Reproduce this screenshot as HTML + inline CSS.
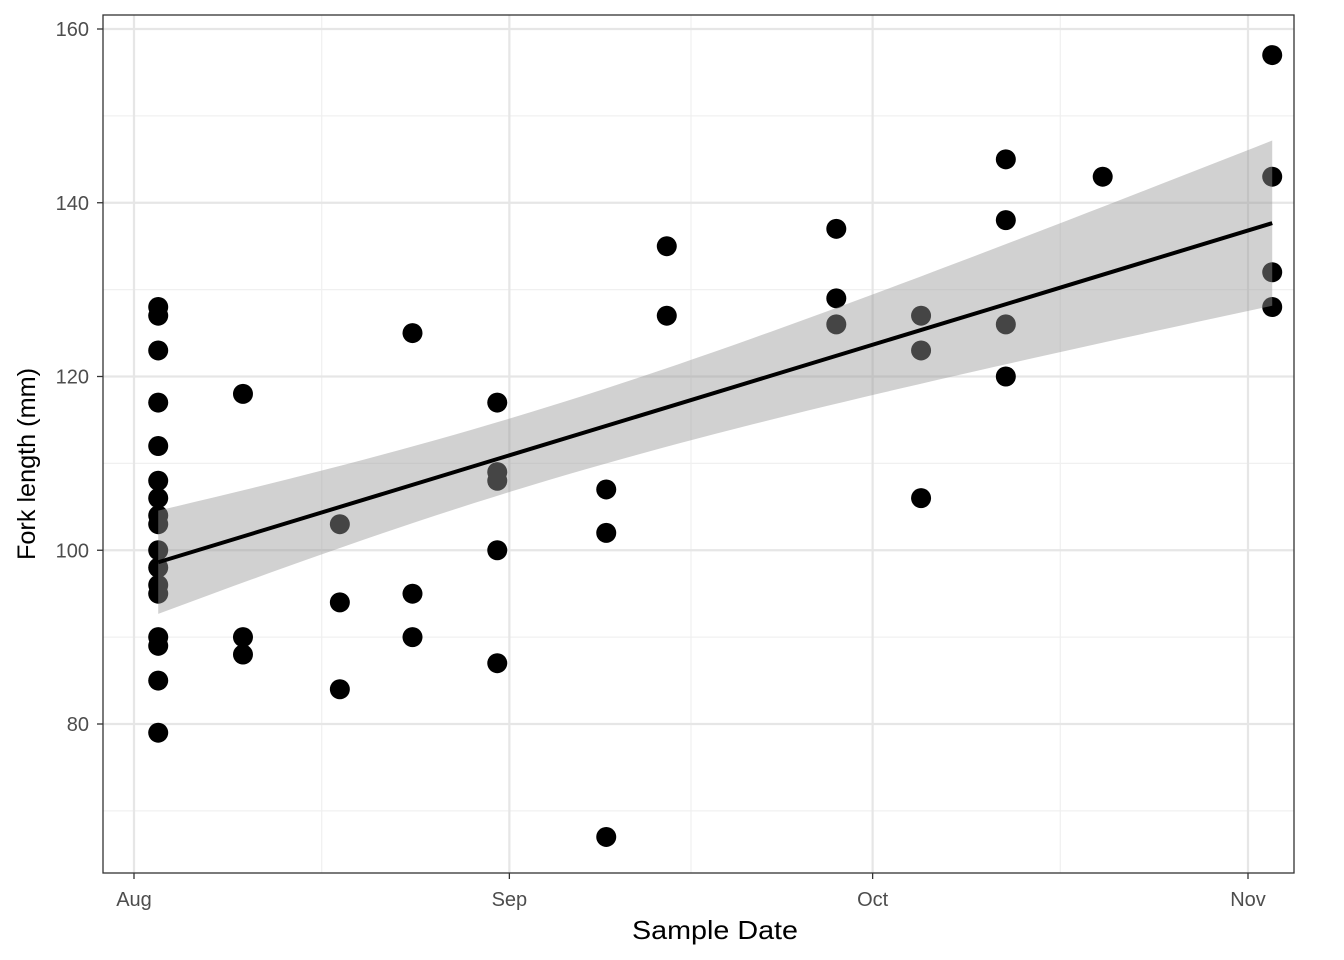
<!DOCTYPE html>
<html><head><meta charset="utf-8"><style>
body{margin:0;background:#fff}
svg{display:block;font-family:"Liberation Sans",Arial,sans-serif}
</style></head><body>
<svg id="c" width="1344" height="960"></svg>
<script>
const dayOffsets=[2,9,17,23,30,39,44,58,65,72,80,94];
const lengths=[
[128,127,123,117,112,108,106,104,103,100,98,96,95,90,89,85,79],
[118,90,88],[103,94,84],[125,95,90],[117,109,108,100,87],[107,102,67],
[135,127],[137,129,126],[127,123,106],[145,138,126,120],[143],[157,143,132,128]];
const yTicks=[80,100,120,140,160];
const yMinor=[70,90,110,130,150];
const xTicks=[0,31,61,92];
const xTickLabels=["Aug","Sep","Oct","Nov"];
const xMinor=[15.5,46,76.5];

const L=103,R=1294,T=15,B=873;
const xs=d=>134+d*(1248-134)/92;
const ys=v=>29+(160-v)*(724-29)/80;
const NS="http://www.w3.org/2000/svg";
const svg=document.getElementById('c');
function mk(t,a,p){const e=document.createElementNS(NS,t);for(const k in a)e.setAttribute(k,a[k]);(p||svg).appendChild(e);return e;}
const bg=mk('rect',{x:L,y:T,width:R-L,height:B-T,fill:'#fff'});


const g=mk('g',{});


yMinor.forEach(v=>mk('line',{x1:L,x2:R,y1:ys(v),y2:ys(v),stroke:'#f0f0f0','stroke-width':1.2},g));
xMinor.forEach(d=>mk('line',{y1:T,y2:B,x1:xs(d),x2:xs(d),stroke:'#f0f0f0','stroke-width':1.2},g));
yTicks.forEach(v=>mk('line',{x1:L,x2:R,y1:ys(v),y2:ys(v),stroke:'#e6e6e6','stroke-width':2.2},g));
xTicks.forEach(d=>mk('line',{y1:T,y2:B,x1:xs(d),x2:xs(d),stroke:'#e6e6e6','stroke-width':2.2},g));
const xsD=[],ysD=[];
const pg=mk('g',{});


dayOffsets.forEach((d,i)=>lengths[i].forEach(v=>{xsD.push(d);ysD.push(v);
 const c=mk('circle',{cx:xs(d),cy:ys(v),r:10,fill:'#000'},pg);
 
 }));
const n=xsD.length,mx=xsD.reduce((a,b)=>a+b)/n,my=ysD.reduce((a,b)=>a+b)/n;
let sxx=0,sxy=0;for(let i=0;i<n;i++){sxx+=(xsD[i]-mx)**2;sxy+=(xsD[i]-mx)*(ysD[i]-my);}
const b1=sxy/sxx,b0=my-b1*mx;
let sse=0;for(let i=0;i<n;i++)sse+=(ysD[i]-b0-b1*xsD[i])**2;
const s=Math.sqrt(sse/(n-2)),tq=2.01;
const d0=Math.min(...xsD),d1=Math.max(...xsD);
let up=[],lo=[];
for(let k=0;k<=60;k++){const d=d0+(d1-d0)*k/60,f=b0+b1*d,se=s*Math.sqrt(1/n+(d-mx)**2/sxx);
 up.push(xs(d)+','+ys(f+tq*se));lo.unshift(xs(d)+','+ys(f-tq*se));}
const band=mk('polygon',{points:up.concat(lo).join(' '),fill:'#999','fill-opacity':0.45});


const ln=mk('line',{x1:xs(d0),y1:ys(b0+b1*d0),x2:xs(d1),y2:ys(b0+b1*d1),stroke:'#000','stroke-width':4});


const fr=mk('rect',{x:L,y:T,width:R-L,height:B-T,fill:'none',stroke:'#333','stroke-width':1.3});


yTicks.forEach(v=>{mk('line',{x1:L-6,x2:L,y1:ys(v),y2:ys(v),stroke:'#333','stroke-width':1.3});
 const t=mk('text',{x:L-14,y:ys(v)+7,'text-anchor':'end','font-size':20,fill:'#4d4d4d'});t.textContent=v;
 
 });
xTicks.forEach((d,i)=>{mk('line',{x1:xs(d),x2:xs(d),y1:B,y2:B+6,stroke:'#333','stroke-width':1.3});
 const t=mk('text',{x:xs(d),y:906,'text-anchor':'middle','font-size':20,fill:'#4d4d4d'});t.textContent=xTickLabels[i];
 
 });
const xt=mk('text',{x:632,y:939,'font-size':26,fill:'#000',textLength:166,lengthAdjust:'spacingAndGlyphs'});xt.textContent='Sample Date';


const yt=mk('text',{x:-96,y:0,'font-size':25,fill:'#000',textLength:192,lengthAdjust:'spacingAndGlyphs',transform:`translate(35,464) rotate(-90)`});yt.textContent='Fork length (mm)';


</script>
</body></html>
